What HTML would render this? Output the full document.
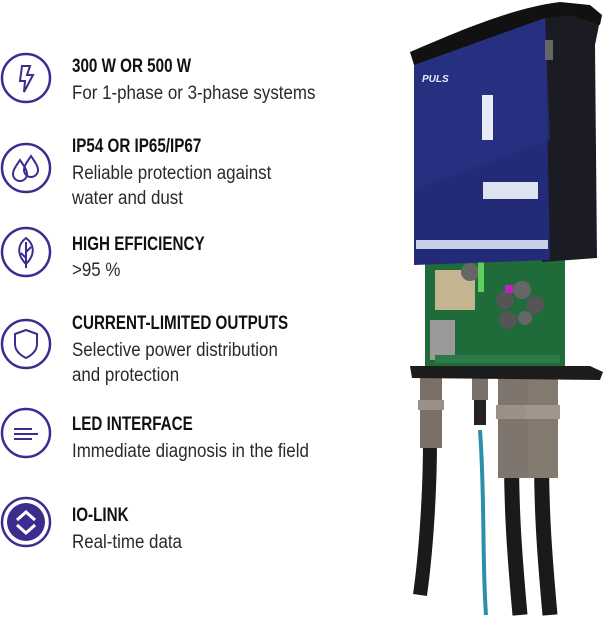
<!DOCTYPE html>
<html><head><meta charset="utf-8"><style>
body{margin:0;width:605px;height:619px;background:#fff;position:relative;overflow:hidden;font-family:"Liberation Sans Narrow","Liberation Sans",sans-serif;}
.t{position:absolute;left:72px;font-weight:bold;font-size:19px;line-height:20px;color:#111;transform:scaleX(0.80);transform-origin:left;white-space:nowrap;}
.b{position:absolute;left:72px;font-size:19px;line-height:25px;color:#2a2a2a;white-space:nowrap;transform:scaleX(0.89);transform-origin:left;}
svg.i{position:absolute;left:0;}
</style></head><body>
<svg class="i" style="top:52px" width="54" height="54" viewBox="0 0 54 54"><circle cx="26" cy="26" r="24" fill="none" stroke="#3a2d8f" stroke-width="2.5"/><path d="M22 14 L30 14 L27 23 L33 23 L24 40 L25 29 L20 29 Z" fill="none" stroke="#3a2d8f" stroke-width="2"/></svg>
<svg class="i" style="top:142px" width="54" height="54" viewBox="0 0 54 54"><circle cx="26" cy="26" r="24" fill="none" stroke="#3a2d8f" stroke-width="2.5"/><path d="M20 18 C16 24 13 28 13 32 A7 7 0 0 0 27 32 C27 28 24 24 20 18Z M31 14 C27 20 24 24 24 28 A7 7 0 0 0 38 28 C38 24 35 20 31 14Z" fill="none" stroke="#3a2d8f" stroke-width="2"/></svg>
<svg class="i" style="top:226px" width="54" height="54" viewBox="0 0 54 54"><circle cx="26" cy="26" r="24" fill="none" stroke="#3a2d8f" stroke-width="2.5"/><path d="M26 12 C18 18 16 28 26 38 C36 28 34 18 26 12Z M26 16 V42 M26 26 L31 21 M26 32 L21 27" fill="none" stroke="#3a2d8f" stroke-width="2"/></svg>
<svg class="i" style="top:318px" width="54" height="54" viewBox="0 0 54 54"><circle cx="26" cy="26" r="24" fill="none" stroke="#3a2d8f" stroke-width="2.5"/><path d="M26 12 L37 16 V26 C37 33 32 37 26 40 C20 37 15 33 15 26 V16 Z" fill="none" stroke="#3a2d8f" stroke-width="2"/></svg>
<svg class="i" style="top:407px" width="54" height="54" viewBox="0 0 54 54"><circle cx="26" cy="26" r="24" fill="none" stroke="#3a2d8f" stroke-width="2.5"/><path d="M14 22 H32 M14 27 H38 M14 32 H32" stroke="#3a2d8f" stroke-width="2"/></svg>
<svg class="i" style="top:496px" width="54" height="54" viewBox="0 0 54 54"><circle cx="26" cy="26" r="24" fill="none" stroke="#3a2d8f" stroke-width="2.5"/><circle cx="26" cy="26" r="19" fill="#3a2d8f"/><path d="M17 24 L26 16 L35 24 M17 29 L26 37 L35 29" fill="none" stroke="#fff" stroke-width="3"/></svg>

<div class="t" style="top:57px">300 W OR 500 W</div>
<div class="b" style="top:81px">For 1-phase or 3-phase systems</div>
<div class="t" style="top:137px">IP54 OR IP65/IP67</div>
<div class="b" style="top:161px">Reliable protection against<br>water and dust</div>
<div class="t" style="top:235px">HIGH EFFICIENCY</div>
<div class="b" style="top:258px">&gt;95 %</div>
<div class="t" style="top:314px">CURRENT-LIMITED OUTPUTS</div>
<div class="b" style="top:338px">Selective power distribution<br>and protection</div>
<div class="t" style="top:415px">LED INTERFACE</div>
<div class="b" style="top:439px">Immediate diagnosis in the field</div>
<div class="t" style="top:506px">IO-LINK</div>
<div class="b" style="top:530px">Real-time data</div>

<svg style="position:absolute;left:390px;top:0" width="215" height="619" viewBox="0 0 215 619">
<path d="M40 440 C40 500 35 560 30 595" stroke="#1a1a1a" stroke-width="14" fill="none"/>
<path d="M90 430 C95 500 92 560 96 615" stroke="#2a8fa8" stroke-width="4" fill="none"/>
<path d="M122 430 C120 500 125 560 130 615" stroke="#1a1a1a" stroke-width="15" fill="none"/>
<path d="M152 430 C150 500 155 560 160 615" stroke="#1a1a1a" stroke-width="15" fill="none"/>
<rect x="30" y="378" width="22" height="70" fill="#7a7068"/>
<rect x="28" y="400" width="26" height="10" fill="#9a9088"/>
<rect x="82" y="378" width="16" height="22" fill="#7a7068"/>
<rect x="84" y="400" width="12" height="25" fill="#222"/>
<rect x="108" y="378" width="30" height="100" fill="#7f756c"/>
<rect x="106" y="405" width="34" height="14" fill="#9a9088"/>
<rect x="138" y="378" width="30" height="100" fill="#847a70"/>
<rect x="136" y="405" width="34" height="14" fill="#a0968c"/>
<rect x="35" y="255" width="140" height="115" fill="#1f6b3a"/>
<rect x="45" y="270" width="40" height="40" fill="#c4b590"/>
<rect x="40" y="320" width="25" height="40" fill="#9a9a9a"/>
<circle cx="115" cy="300" r="9" fill="#555"/><circle cx="132" cy="290" r="9" fill="#666"/><circle cx="145" cy="305" r="9" fill="#555"/><circle cx="118" cy="320" r="9" fill="#555"/><circle cx="135" cy="318" r="7" fill="#666"/><circle cx="80" cy="272" r="9" fill="#666"/>
<rect x="115" y="285" width="8" height="8" fill="#c020c0"/>
<rect x="88" y="262" width="6" height="30" fill="#5fd060"/>
<rect x="45" y="355" width="125" height="8" fill="#2c7a48"/>
<path d="M20 366 L200 366 L213 372 L210 380 L22 378 Z" fill="#1c1c1c"/>
<path d="M150 16 L190 5 L210 20 L205 45 L207 258 L152 262 Z" fill="#1b1b24"/>
<path d="M24 58 L155 15 L160 260 L24 265 Z" fill="#232a78"/>
<path d="M24 58 L155 15 L160 140 L24 190 Z" fill="#2a3285" opacity="0.7"/>
<path d="M20 52 C60 35 120 8 170 2 L200 5 L212 15 L210 25 L180 15 L155 18 L24 65 Z" fill="#111"/>
<text x="32" y="82" fill="#e8e8ff" font-family="Liberation Sans" font-weight="bold" font-style="italic" font-size="10">PULS</text>
<rect x="92" y="95" width="11" height="45" fill="#e8ecf5"/>
<rect x="93" y="182" width="55" height="17" fill="#dde4f0"/>
<rect x="26" y="240" width="132" height="9" fill="#c8d0e8"/>
<rect x="155" y="40" width="8" height="20" fill="#666"/>
</svg>
</body></html>
